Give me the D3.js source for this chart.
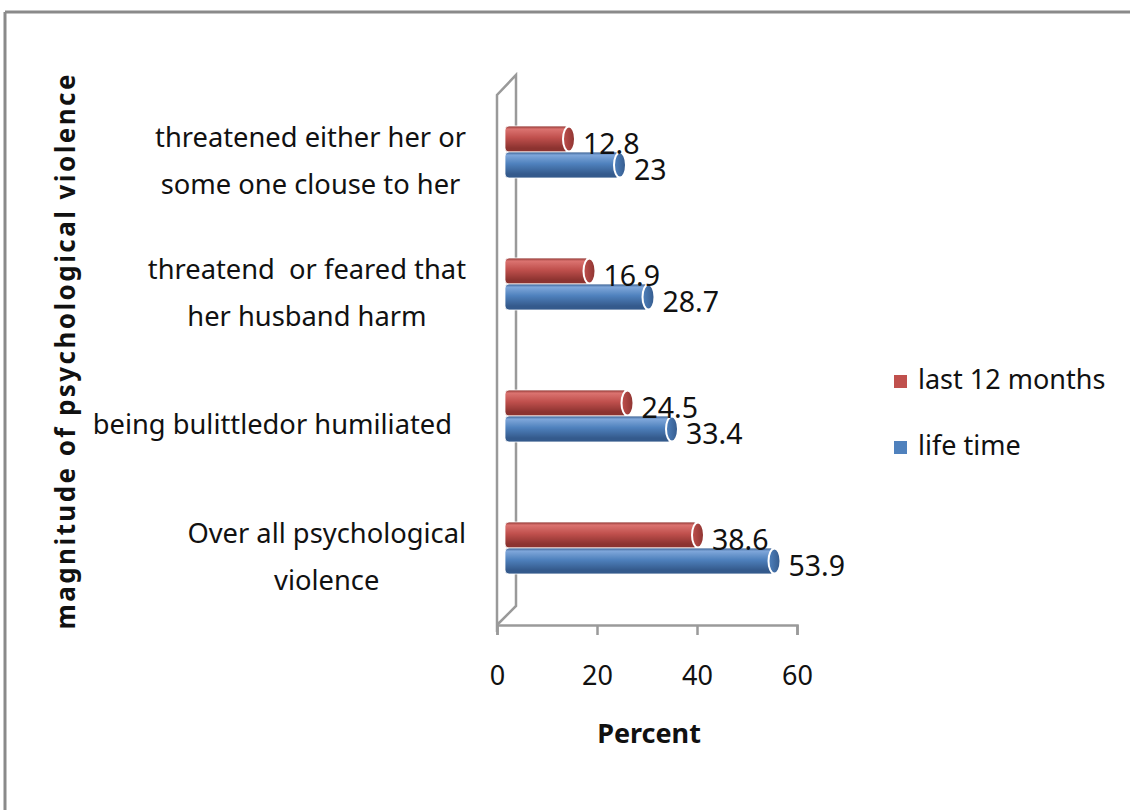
<!DOCTYPE html>
<html>
<head>
<meta charset="utf-8">
<script src="https://cdnjs.cloudflare.com/ajax/libs/d3/7.8.5/d3.min.js"></script>
<style>
  html, body { margin: 0; padding: 0; background: #fff; }
  svg text { font-family: "Noto Sans", "Open Sans", sans-serif; fill: #111; white-space: pre; }
</style>
</head>
<body>
<svg id="chart" width="1130" height="810"></svg>
<script>
// Categories, top to bottom as drawn (lines separated by \n)
const categories = [
  "threatened either her or\nsome one clouse to her",
  "threatend  or feared that\nher husband harm",
  "being bulittledor humiliated",
  "Over all psychological\nviolence"
];
const seriesNames = ["last 12 months", "life time"];
const last12Months = [12.8, 16.9, 24.5, 38.6];
const lifeTime = [23, 28.7, 33.4, 53.9];
const xTicks = [0, 20, 40, 60];
const seriesColors = {
  "last 12 months": { base: "#C0504D", light: "#DB7370", dark: "#8C3330" },
  "life time": { base: "#4F81BD", light: "#7FA7DA", dark: "#345A8C" }
};

const svg = d3.select("#chart");
const defs = svg.append("defs");

// outer frame (top and left edges)
svg.append("line").attr("x1", 5).attr("x2", 1130).attr("y1", 12).attr("y2", 12)
  .attr("stroke", "#8a8a8a").attr("stroke-width", 3);
svg.append("line").attr("x1", 5).attr("x2", 5).attr("y1", 12).attr("y2", 810)
  .attr("stroke", "#8a8a8a").attr("stroke-width", 3);

// scales
const x = d3.scaleLinear().domain([0, 60]).range([497, 797]);
const depth = 8; // horizontal offset of bars inside the 3D wall
const y = d3.scaleBand().domain(categories).range([86, 614]).paddingInner(0.606).paddingOuter(0.303);
const ySub = d3.scaleBand().domain(seriesNames).range([0, y.bandwidth()]);

// cylinder gradients
seriesNames.forEach((s, i) => {
  const c = seriesColors[s];
  const g = defs.append("linearGradient").attr("id", "cyl" + i)
    .attr("x1", 0).attr("y1", 0).attr("x2", 0).attr("y2", 1);
  g.append("stop").attr("offset", "0%").attr("stop-color", c.dark);
  g.append("stop").attr("offset", "12%").attr("stop-color", c.light);
  g.append("stop").attr("offset", "45%").attr("stop-color", c.base);
  g.append("stop").attr("offset", "85%").attr("stop-color", c.dark);
  g.append("stop").attr("offset", "100%").attr("stop-color", c.dark);
  const cap = defs.append("linearGradient").attr("id", "cap" + i)
    .attr("x1", 0).attr("y1", 0).attr("x2", 1).attr("y2", 0);
  cap.append("stop").attr("offset", "0%").attr("stop-color", c.base);
  cap.append("stop").attr("offset", "100%").attr("stop-color", c.dark);
});

// 3D wall
const wall = svg.append("g").attr("stroke", "#9a9a9a").attr("stroke-width", 2.5).attr("fill", "none");
wall.append("path").attr("d", d3.line()([[x(0), 632], [x(0), 95], [x(0) + 19, 75], [x(0) + 19, 606], [x(0), 625]]));

// x axis
const axis = d3.axisBottom(x).tickValues(xTicks).tickSize(10).tickPadding(31).tickFormat(d3.format("d"));
const ax = svg.append("g").attr("transform", "translate(0,625)").call(axis);
ax.select(".domain").attr("stroke", "#9a9a9a").attr("stroke-width", 2.5);
ax.selectAll(".tick line").attr("stroke", "#9a9a9a").attr("stroke-width", 2.5);
ax.selectAll(".tick text").attr("font-size", 27).attr("fill", "#111")
  .style("font-family", "'Noto Sans', sans-serif");

// bars
const rows = categories.map((c, i) => ({ cat: c, values: [last12Months[i], lifeTime[i]] }));
const barsG = svg.append("g");
rows.forEach(r => {
  r.values.forEach((v, si) => {
    const s = seriesNames[si];
    const y0 = y(r.cat) + ySub(s);
    const h = ySub.bandwidth();
    const xs = x(0) + depth;
    const xe = x(v) + depth;
    const g = barsG.append("g");
    g.append("rect").attr("x", xs).attr("y", y0).attr("width", xe - xs).attr("height", h)
      .attr("rx", 4).attr("fill", "url(#cyl" + si + ")")
      .attr("stroke", "#fff").attr("stroke-width", 0.8);
    g.append("ellipse").attr("cx", xe).attr("cy", y0 + h / 2).attr("rx", 6).attr("ry", h / 2 - 0.5)
      .attr("fill", "url(#cap" + si + ")").attr("stroke", "#fff").attr("stroke-width", 2);
  });
});

// value labels
rows.forEach(r => {
  r.values.forEach((v, si) => {
    const s = seriesNames[si];
    const cy = y(r.cat) + ySub(s) + ySub.bandwidth() / 2;
    svg.append("text").attr("x", x(v) + depth + 14).attr("y", cy + 7)
      .attr("dominant-baseline", "middle").attr("font-size", 28.5)
      .text(d3.format("")(v));
  });
});

// category labels: block right-aligned, lines centered within block
categories.forEach(c => {
  const lines = c.split("\n");
  const cy = y(c) + y.bandwidth() / 2 + 11;
  const lh = 47;
  const g = svg.append("g");
  const texts = lines.map((ln, i) => g.append("text")
    .attr("y", cy + (i - (lines.length - 1) / 2) * lh)
    .attr("dominant-baseline", "middle").attr("text-anchor", "middle")
    .attr("font-size", 27.3).text(ln));
  const w = d3.max(texts, t => t.node().getComputedTextLength());
  const right = lines.length > 1 ? 466 : 452;
  texts.forEach(t => t.attr("x", right - w / 2));
});

// axis titles
svg.append("text").attr("transform", "translate(68,352) rotate(-90)")
  .attr("text-anchor", "middle").attr("dominant-baseline", "middle")
  .attr("font-size", 26).attr("font-weight", "bold")
  .attr("textLength", 555).attr("lengthAdjust", "spacing")
  .text("magnitude of psychological violence");
svg.append("text").attr("x", 649).attr("y", 736)
  .attr("text-anchor", "middle").attr("dominant-baseline", "middle")
  .attr("font-size", 27).attr("font-weight", "bold").text("Percent");

// legend
const legend = svg.append("g");
seriesNames.forEach((s, i) => {
  const ly = 382 + i * 66;
  legend.append("rect").attr("x", 894).attr("y", ly - 7).attr("width", 13).attr("height", 13)
    .attr("fill", seriesColors[s].base);
  legend.append("text").attr("x", 918).attr("y", ly).attr("dominant-baseline", "middle")
    .attr("font-size", 27).text(s);
});
</script>
</body>
</html>
